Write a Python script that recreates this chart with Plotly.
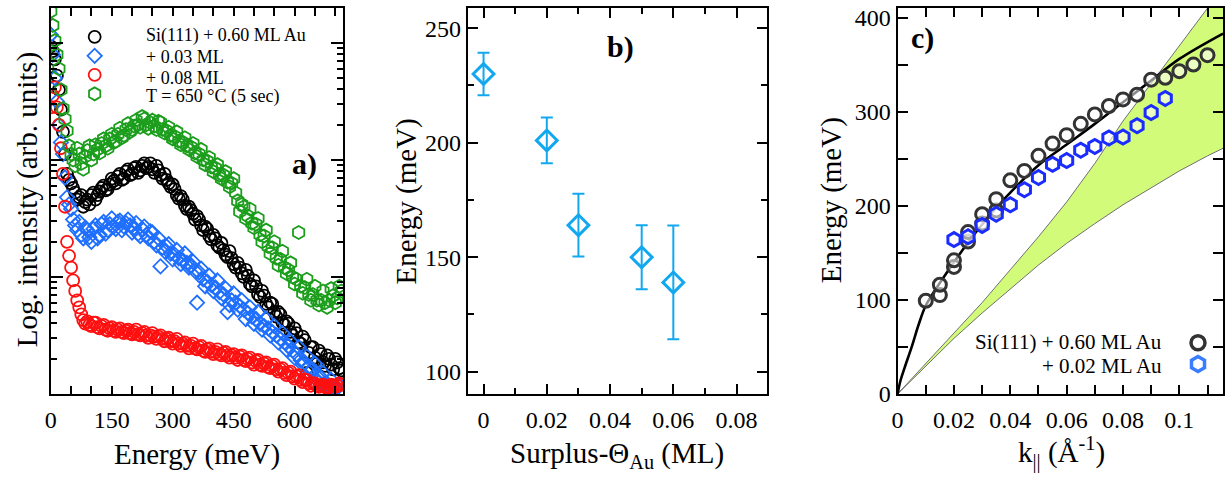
import plotly.graph_objects as go

# ---------------- Panel a: log intensity spectra (two interleaved scans) ----------------
energy_a = list(range(0, 720, 10))
energy_a2 = list(range(5, 720, 10))
log_I_black = [2.97, 2.86, 2.60, 2.24, 1.88, 1.80, 1.72, 1.68, 1.60, 1.66, 1.70, 1.66, 1.73, 1.78, 1.75, 1.84,
               1.80, 1.88, 1.84, 1.92, 1.88, 1.94, 1.91, 1.97, 1.94, 1.92, 1.95, 1.87, 1.88, 1.80, 1.79, 1.70,
               1.69, 1.61, 1.60, 1.54, 1.52, 1.44, 1.43, 1.35, 1.36, 1.27, 1.29, 1.19, 1.22, 1.11, 1.12, 1.03,
               1.06, 0.94, 0.97, 0.85, 0.88, 0.77, 0.78, 0.70, 0.70, 0.61, 0.62, 0.53, 0.56, 0.44, 0.49, 0.18,
               0.40, 0.31, 0.37, 0.27, 0.33, 0.25, 0.30, 0.22]
log_I_black2 = [2.93, 2.72, 2.43, 2.05, 1.83, 1.76, 1.66, 1.70, 1.64, 1.62, 1.72, 1.70, 1.76, 1.74, 1.79, 1.82,
                1.86, 1.83, 1.90, 1.87, 1.93, 1.89, 1.95, 1.93, 1.97, 1.89, 1.91, 1.84, 1.83, 1.77, 1.75, 1.67,
                1.66, 1.58, 1.57, 1.49, 1.49, 1.40, 1.41, 1.32, 1.33, 1.25, 1.23, 1.17, 1.16, 1.08, 1.08, 1.00,
                1.01, 0.92, 0.92, 0.83, 0.84, 0.74, 0.77, 0.66, 0.68, 0.59, 0.60, 0.50, 0.52, 0.43, 0.46, 0.35,
                0.40, 0.26, 0.34, 0.24, 0.30, 0.21, 0.27, 0.20]
log_I_blue = [3.07, 2.70, 2.30, 2.05, 1.68, 1.58, 1.44, 1.47, 1.33, 1.40, 1.30, 1.44, 1.36, 1.47, 1.40, 1.50,
              1.41, 1.48, 1.43, 1.49, 1.38, 1.46, 1.35, 1.43, 1.33, 1.38, 1.27, 1.09, 1.22, 1.28, 1.15, 1.23,
              1.11, 1.20, 1.08, 1.13, 0.78, 1.07, 0.92, 1.01, 0.88, 0.97, 0.82, 0.90, 0.76, 0.86, 0.72, 0.80,
              0.64, 0.74, 0.60, 0.70, 0.55, 0.64, 0.50, 0.58, 0.44, 0.52, 0.38, 0.45, 0.31, 0.40, 0.25, 0.32,
              0.20, 0.26, 0.10, 0.18, 0.06, 0.12, 0.04, 0.08]
log_I_blue2 = [2.90, 2.50, 2.15, 1.85, 1.62, 1.49, 1.40, 1.36, 1.42, 1.34, 1.41, 1.33, 1.45, 1.37, 1.45, 1.43,
               1.47, 1.40, 1.46, 1.44, 1.42, 1.37, 1.41, 1.36, 1.39, 1.30, 1.33, 1.25, 1.26, 1.20, 1.19, 1.16,
               1.14, 1.12, 1.10, 1.05, 1.04, 0.98, 0.96, 0.93, 0.91, 0.87, 0.85, 0.70, 0.80, 0.78, 0.75, 0.72,
               0.69, 0.66, 0.64, 0.60, 0.58, 0.56, 0.53, 0.50, 0.47, 0.44, 0.41, 0.37, 0.34, 0.29, 0.27, 0.23,
               0.21, 0.15, 0.14, 0.09, 0.07, 0.05, 0.05, 0.03]
log_I_red = [2.45, 2.62, 2.30, 1.88, 1.30, 1.08, 0.88, 0.74, 0.63, 0.62, 0.58, 0.61, 0.56, 0.59, 0.54, 0.57,
             0.53, 0.56, 0.52, 0.55, 0.51, 0.55, 0.50, 0.53, 0.48, 0.52, 0.47, 0.50, 0.45, 0.48, 0.43, 0.47,
             0.41, 0.44, 0.39, 0.43, 0.38, 0.41, 0.36, 0.39, 0.34, 0.38, 0.33, 0.36, 0.31, 0.34, 0.29, 0.33,
             0.28, 0.31, 0.25, 0.29, 0.24, 0.27, 0.22, 0.25, 0.19, 0.22, 0.16, 0.19, 0.13, 0.16, 0.10, 0.12,
             0.07, 0.09, 0.06, 0.08, 0.05, 0.08, 0.06, 0.09]
log_I_red2 = [2.55, 2.45, 2.10, 1.60, 1.18, 0.97, 0.80, 0.68, 0.60, 0.59, 0.61, 0.57, 0.58, 0.55, 0.56, 0.54,
              0.55, 0.53, 0.54, 0.52, 0.53, 0.51, 0.52, 0.50, 0.50, 0.49, 0.49, 0.47, 0.47, 0.45, 0.45, 0.43,
              0.43, 0.41, 0.41, 0.39, 0.40, 0.37, 0.38, 0.36, 0.36, 0.34, 0.35, 0.33, 0.33, 0.31, 0.32, 0.29,
              0.30, 0.27, 0.28, 0.25, 0.26, 0.23, 0.24, 0.21, 0.21, 0.18, 0.18, 0.15, 0.15, 0.12, 0.12, 0.09,
              0.09, 0.07, 0.07, 0.06, 0.06, 0.07, 0.07, 0.08]
log_I_green = [3.27, 3.02, 2.78, 2.44, 2.25, 2.05, 1.95, 2.05, 1.92, 2.08, 2.00, 2.13, 2.06, 2.18, 2.10, 2.22,
               2.16, 2.27, 2.21, 2.31, 2.26, 2.34, 2.28, 2.35, 2.27, 2.34, 2.26, 2.32, 2.23, 2.28, 2.18, 2.24,
               2.13, 2.19, 2.09, 2.14, 2.03, 2.09, 1.96, 2.02, 1.90, 1.96, 1.84, 1.90, 1.77, 1.84, 1.65, 1.62,
               1.50, 1.58, 1.42, 1.50, 1.30, 1.40, 1.20, 1.30, 1.10, 1.22, 1.03, 1.12, 0.94, 1.38, 0.86, 0.98,
               0.80, 0.92, 0.76, 0.88, 0.74, 0.90, 0.78, 0.92]
log_I_green2 = [3.15, 2.90, 2.60, 2.35, 2.12, 2.00, 2.10, 1.97, 2.03, 2.12, 2.05, 2.09, 2.14, 2.12, 2.18, 2.15,
                2.22, 2.19, 2.26, 2.24, 2.29, 2.30, 2.37, 2.30, 2.32, 2.29, 2.33, 2.26, 2.25, 2.21, 2.20, 2.16,
                2.15, 2.12, 2.11, 2.06, 2.05, 2.00, 1.99, 1.94, 1.93, 1.87, 1.87, 1.81, 1.80, 1.72, 1.56, 1.60,
                1.52, 1.46, 1.45, 1.36, 1.35, 1.26, 1.25, 1.16, 1.15, 1.08, 1.06, 1.00, 0.98, 0.92, 0.91, 0.85,
                0.85, 0.80, 0.80, 0.78, 0.80, 0.84, 0.82, 0.88]
labels_a = ["Si(111) + 0.60 ML Au", "+ 0.03 ML", "+ 0.08 ML", "T = 650 °C (5 sec)"]
xtick_a_major = [0, 150, 300, 450, 600]
xtick_a_minor = [50, 100, 200, 250, 350, 400, 500, 550, 650, 700]

# ---------------- Panel b: energy vs surplus coverage ----------------
surplus = [0.0, 0.02, 0.03, 0.05, 0.06]
energy_b = [230, 201, 164, 150, 139]
err_b = [9.3, 10, 13.7, 14, 24.8]

# ---------------- Panel c: dispersion ----------------
k_black = [0.010, 0.015, 0.015, 0.020, 0.020, 0.025, 0.025, 0.030, 0.030, 0.035, 0.035, 0.040, 0.045,
           0.050, 0.055, 0.060, 0.065, 0.070, 0.075, 0.080, 0.085, 0.090, 0.095, 0.100, 0.105, 0.110]
E_black = [99, 105, 116, 135, 142, 162, 172, 181, 191, 195, 207, 227, 237, 253, 266, 275, 287, 297, 306,
           313, 318, 334, 336, 343, 350, 360]
k_blue = [0.020, 0.025, 0.030, 0.035, 0.040, 0.045, 0.050, 0.055, 0.060, 0.065, 0.070, 0.075, 0.080,
          0.085, 0.090, 0.095]
E_blue = [164, 167, 179, 191, 201, 217, 230, 244, 248, 259, 263, 272, 273, 285, 299, 314]
k_fit = [0, 0.001, 0.0025, 0.005, 0.0075, 0.01, 0.015, 0.02, 0.025, 0.03, 0.035, 0.04, 0.05, 0.06, 0.07,
         0.08, 0.09, 0.10, 0.1155]
E_fit = [0, 14, 28, 50, 74, 94, 118, 140, 161, 180, 198, 214, 243, 265, 287, 310, 333, 356, 383]
k_band = [0, 0.01, 0.02, 0.03, 0.04, 0.05, 0.06, 0.07, 0.08, 0.09, 0.10, 0.11, 0.1155]
E_band_low = [0, 30, 59, 86, 112, 137, 160, 181, 201, 219, 237, 253, 261]
E_band_high = [0, 32, 64, 97, 132, 167, 204, 245, 290, 330, 371, 410, 432]
labels_c = ["Si(111) + 0.60 ML Au", "+ 0.02 ML Au"]

FONT = "Liberation Serif"
W, H = 1227, 494


def px_x(p):
    return p / W


def px_y(p):
    return 1 - p / H


fig = go.Figure()

# panel a traces (legend shows symbols; labels are placed beside them as text)
series_a = [
    (log_I_black, log_I_black2, "#000000", "circle-open", 12),
    (log_I_blue, log_I_blue2, "#1f6fff", "diamond-open", 11),
    (log_I_red, log_I_red2, "#ff1010", "circle-open", 12),
    (log_I_green, log_I_green2, "#1c9e1c", "hexagon-open", 13),
]
for v1, v2, col, sym, sz in series_a:
    fig.add_trace(go.Scatter(
        x=energy_a + energy_a2, y=[10 ** v for v in v1 + v2], mode="markers", name=" ",
        marker=dict(symbol=sym, size=sz, color=col, line=dict(width=1.8, color=col)),
        xaxis="x", yaxis="y", legend="legend"))

# panel b
fig.add_trace(go.Scatter(
    x=surplus, y=energy_b, mode="markers", showlegend=False,
    marker=dict(symbol="diamond-open", size=16, color="#12a8f0", line=dict(width=3, color="#12a8f0")),
    error_y=dict(type="data", array=err_b, visible=True, color="#12a8f0", thickness=2, width=6),
    xaxis="x2", yaxis="y2"))

# panel c
fig.add_trace(go.Scatter(x=k_band, y=E_band_low, mode="lines", showlegend=False,
                         line=dict(color="#6f6f6f", width=1), xaxis="x3", yaxis="y3"))
fig.add_trace(go.Scatter(x=k_band, y=E_band_high, mode="lines", showlegend=False, fill="tonexty",
                         fillcolor="#d3fb7a", line=dict(color="#6f6f6f", width=1), xaxis="x3", yaxis="y3"))
fig.add_trace(go.Scatter(x=k_fit, y=E_fit, mode="lines", showlegend=False, line_shape="spline",
                         line=dict(color="#000000", width=2.6), xaxis="x3", yaxis="y3"))
fig.add_trace(go.Scatter(x=k_black, y=E_black, mode="markers", showlegend=False,
                         marker=dict(symbol="circle", size=13, color="rgba(255,255,255,0.55)",
                                     line=dict(width=3, color="#333333")),
                         xaxis="x3", yaxis="y3"))
fig.add_trace(go.Scatter(x=k_blue, y=E_blue, mode="markers", showlegend=False,
                         marker=dict(symbol="hexagon", size=14, color="rgba(255,255,255,0.55)",
                                     line=dict(width=3, color="#1a2cff")),
                         xaxis="x3", yaxis="y3"))
# legend symbols for panel c (their labels are drawn to the left as text)
fig.add_trace(go.Scatter(x=[None], y=[None], mode="markers", name=" ", legend="legend2",
                         marker=dict(symbol="circle-open", size=14, color="#333333", line=dict(width=3.5)),
                         xaxis="x3", yaxis="y3"))
fig.add_trace(go.Scatter(x=[None], y=[None], mode="markers", name=" ", legend="legend2",
                         marker=dict(symbol="hexagon-open", size=15, color="#3a7dff", line=dict(width=3.5)),
                         xaxis="x3", yaxis="y3"))

axis_common = dict(showline=True, linecolor="black", linewidth=2, mirror="ticks", ticks="inside",
                   tickcolor="black", tickwidth=1.5, showgrid=False, zeroline=False,
                   tickfont=dict(family=FONT, size=24, color="black"))


def minor(vals, length):
    return dict(tickmode="array", tickvals=vals, ticks="inside", ticklen=length,
                tickcolor="black", tickwidth=1.5)


fig.update_layout(
    xaxis=dict(axis_common, domain=[px_x(45), px_x(339)], range=[0, 720], anchor="y",
               tickmode="array", tickvals=xtick_a_major, ticklen=8, ticklabelstandoff=3,
               minor=minor(xtick_a_minor, 8)),
    yaxis=dict(axis_common, domain=[px_y(404), px_y(5)], type="log", range=[0, 3.3], anchor="x",
               tickmode="array", tickvals=[1, 10, 100, 1000], showticklabels=False, ticklen=12,
               minor=minor([m * d for d in (1, 10, 100, 1000) for m in range(2, 10)], 6)),
    xaxis2=dict(axis_common, domain=[px_x(464), px_x(765)], range=[-0.005, 0.0897], anchor="y2",
                tickmode="array", tickvals=[0, 0.02, 0.04, 0.06, 0.08],
                ticktext=["0", "0.02", "0.04", "0.06", "0.08"], ticklen=10, ticklabelstandoff=3,
                minor=minor([0.01, 0.03, 0.05, 0.07], 6)),
    yaxis2=dict(axis_common, domain=[px_y(404), px_y(5)], range=[90.3, 258.9], anchor="x2",
                tickmode="array", tickvals=[100, 150, 200, 250], ticklen=10,
                minor=minor([125, 175, 225], 6)),
    xaxis3=dict(axis_common, domain=[px_x(896), px_x(1223)], range=[0, 0.1155], anchor="y3",
                tickmode="array", tickvals=[0, 0.02, 0.04, 0.06, 0.08, 0.10],
                ticktext=["0", "0.02", "0.04", "0.06", "0.08", "0.1"], ticklen=9, ticklabelstandoff=3,
                minor=minor([0.01, 0.03, 0.05, 0.07, 0.09, 0.11], 9)),
    yaxis3=dict(axis_common, domain=[px_y(404), px_y(5)], range=[0, 410.3], anchor="x3",
                tickmode="array", tickvals=[0, 100, 200, 300, 400], ticklen=10,
                minor=minor([50, 150, 250, 350], 10)),
)

fig.update_layout(
    width=W, height=H, margin=dict(l=0, r=0, t=0, b=0),
    paper_bgcolor="white", plot_bgcolor="white",
    font=dict(family=FONT, color="black"),
    legend=dict(x=px_x(69), y=px_y(20), xanchor="left", yanchor="top", bgcolor="rgba(0,0,0,0)",
                font=dict(family=FONT, size=10, color="black"), itemwidth=30, traceorder="normal"),
    legend2=dict(x=px_x(1178), y=px_y(335), xanchor="left", yanchor="top", bgcolor="rgba(0,0,0,0)",
                 font=dict(family=FONT, size=14, color="black"), itemwidth=30, traceorder="normal"),
)

ann = []
title_font = dict(family=FONT, size=29, color="black")
ann.append(dict(text="Energy (meV)", x=px_x(192), y=px_y(467), xref="paper", yref="paper",
                showarrow=False, font=title_font, xanchor="center", yanchor="middle"))
ann.append(dict(text="Log. intensity (arb. units)", x=px_x(22), y=px_y(203), xref="paper", yref="paper",
                showarrow=False, font=title_font, textangle=-90, xanchor="center", yanchor="middle"))
ann.append(dict(text="Surplus-Θ<sub>Au</sub> (ML)", x=px_x(614), y=px_y(467), xref="paper", yref="paper",
                showarrow=False, font=title_font, xanchor="center", yanchor="middle"))
ann.append(dict(text="Energy (meV)", x=px_x(402), y=px_y(205), xref="paper", yref="paper",
                showarrow=False, font=title_font, textangle=-90, xanchor="center", yanchor="middle"))
ann.append(dict(text="k<sub>||</sub> (Å<sup>-1</sup>)", x=px_x(1061), y=px_y(465), xref="paper",
                yref="paper", showarrow=False, font=title_font, xanchor="center", yanchor="middle"))
ann.append(dict(text="Energy (meV)", x=px_x(829), y=px_y(204), xref="paper", yref="paper",
                showarrow=False, font=title_font, textangle=-90, xanchor="center", yanchor="middle"))
panel_font = dict(family=FONT, size=30, color="black")
for txt, x, y in (("<b>a)</b>", 300, 166), ("<b>b)</b>", 618, 45), ("<b>c)</b>", 921, 36)):
    ann.append(dict(text=txt, x=px_x(x), y=px_y(y), xref="paper", yref="paper", showarrow=False,
                    font=panel_font, xanchor="center", yanchor="middle"))
for txt, y in zip(labels_a, (34, 56, 77, 97)):
    ann.append(dict(text=txt, x=px_x(139), y=px_y(y), xref="paper", yref="paper", showarrow=False,
                    font=dict(family=FONT, size=18, color="black"), xanchor="left", yanchor="middle"))
for txt, y in zip(labels_c, (350, 375)):
    ann.append(dict(text=txt, x=px_x(1164), y=px_y(y), xref="paper", yref="paper", showarrow=False,
                    font=dict(family=FONT, size=21, color="black"), xanchor="right", yanchor="middle"))
fig.update_layout(annotations=ann)

page_fix = ("var d=document.getElementById('{plot_id}');"
            "d.style.position='fixed';d.style.left='0px';d.style.top='0px';"
            "document.documentElement.style.cssText='margin:0;padding:0;overflow:hidden';"
            "document.body.style.cssText='margin:0;padding:0;overflow:hidden';")
fig.write_html("out.html", post_script=page_fix, config={"displayModeBar": False})
